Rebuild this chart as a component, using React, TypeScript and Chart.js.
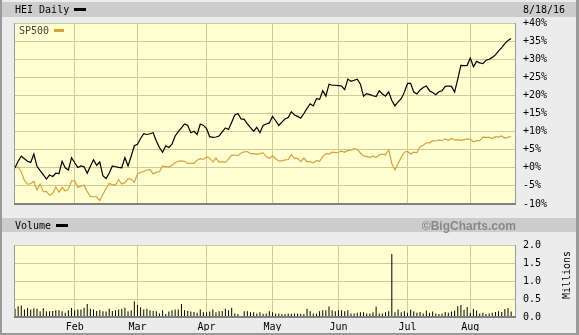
import { useEffect, useRef } from 'react';
import { Chart, registerables } from 'chart.js';

Chart.register(...registerables);

// Trading-day index 0 = Jan 4 2016 ... 158 = Aug 18 2016
const HEI = [
  0, 1.8, 3.2, 2.5, 1.8, 1.5, 3.8, 0.4, -0.8, -1.9, -3.1, -2.0, -2.4, -1.5, -1.6, 1.8, 0, -0.6, 2.8,
  1.4, 0.1, 0.5, 0.3, -1.5, 0.4, 2.2, 0.7, 1.6, -2.2, -3.0, -1.5, 0.5, 0.3, 0.1, 0.0, 2.8, 0.5, 3.2, 6.1,
  6.5, 8.1, 9.4, 9.2, 9.4, 9.7, 7.4, 5.6, 4.3, 6.1, 5.6, 6.5, 8.8, 10.0, 11.0, 12.1, 11.7, 9.7, 10.1, 9.2, 12.1, 11.7,
  10.8, 8.6, 8.4, 8.5, 8.8, 9.9, 11.0, 10.6, 12.6, 14.6, 15.0, 13.5, 13.4, 12.1, 11.1, 10.1, 11.2, 9.7, 11.7, 12.1, 12.4,
  14.2, 13.0, 11.7, 12.6, 13.5, 13.9, 15.5, 14.6, 14.2, 13.7, 15.0, 16.4, 17.7, 17.1, 19.1, 18.9, 21.3, 19.8, 23.1, 22.8, 22.8,
  22.7, 22.6, 21.6, 24.5, 23.9, 24.2, 24.5, 23.1, 19.8, 20.5, 20.2, 19.9, 19.7, 21.3, 20.4, 19.8, 21.0, 18.6, 17.1, 18.2, 19.1, 20.9,
  23.3, 23.3, 20.9, 20.4, 21.5, 22.2, 22.6, 21.3, 20.8, 20.2, 21.0, 21.3, 22.5, 22.6, 22.5, 20.9, 24.5, 28.3, 28.2, 28.3,
  30.3, 27.9, 29.4, 29.0, 28.8, 29.7, 30.0, 30.5, 31.2, 32.3, 33.2, 34.3, 35.2, 35.7,
];

const SP500 = [
  0, 0.2, -1.1, -3.5, -4.5, -4.4, -3.7, -6.1, -4.5, -6.6, -6.5, -7.6, -7.1, -5.3, -6.7, -5.4, -6.4, -5.9, -3.6,
  -3.6, -5.4, -5.0, -4.8, -6.6, -7.9, -8.0, -8.0, -9.1, -7.3, -5.8, -4.3, -4.7, -4.7, -3.3, -4.5, -4.1, -3.0, -3.2, -4.0,
  -1.7, -1.3, -1.0, -0.6, -0.5, -1.7, -1.2, -1.1, 0.5, 0.3, 0.2, 0.7, 1.4, 1.8, 1.9, 1.8, 1.2, 1.2, 1.2, 2.1, 2.5, 2.3,
  3.0, 2.7, 1.6, 2.7, 1.5, 1.7, 1.5, 2.4, 3.5, 3.5, 3.4, 4.1, 4.4, 4.5, 3.9, 3.9, 3.7, 3.9, 4.1, 3.1, 2.6,
  3.4, 2.5, 1.9, 1.9, 2.2, 2.3, 3.6, 2.6, 2.6, 1.7, 2.7, 1.7, 1.7, 1.4, 2.0, 1.8, 3.1, 3.9, 3.8, 4.3, 4.2,
  4.3, 4.6, 4.3, 4.8, 4.9, 5.3, 5.1, 4.1, 3.3, 3.1, 2.9, 3.2, 2.9, 3.5, 3.8, 3.6, 5.0, 1.2, -0.6, 1.2, 2.9, 4.3,
  4.5, 3.8, 4.3, 4.2, 5.8, 6.2, 6.9, 6.9, 7.5, 7.4, 7.7, 7.5, 8.0, 7.6, 8.1, 7.7, 7.8, 7.6, 7.8, 8.0,
  7.9, 7.2, 7.5, 7.5, 8.5, 8.4, 8.4, 8.1, 8.6, 8.5, 8.8, 8.2, 8.4, 8.7,
];

// Millions of shares
const VOLUME = [
  0.23, 0.3, 0.32, 0.21, 0.25, 0.21, 0.24, 0.23, 0.16, 0.24, 0.16, 0.16, 0.17, 0.19, 0.19, 0.16, 0.12, 0.19, 0.25,
  0.19, 0.21, 0.21, 0.26, 0.36, 0.23, 0.21, 0.17, 0.19, 0.16, 0.15, 0.23, 0.17, 0.19, 0.21, 0.23, 0.26, 0.16, 0.19, 0.44,
  0.33, 0.27, 0.21, 0.23, 0.19, 0.17, 0.16, 0.1, 0.19, 0.08, 0.15, 0.19, 0.21, 0.21, 0.36, 0.19, 0.17, 0.15, 0.14, 0.12,
  0.21, 0.13, 0.13, 0.15, 0.21, 0.13, 0.16, 0.17, 0.23, 0.19, 0.26, 0.1, 0.08, 0.03, 0.16, 0.16, 0.13, 0.13, 0.1, 0.13,
  0.09, 0.1, 0.16, 0.13, 0.1, 0.1, 0.08, 0.08, 0.1, 0.09, 0.1, 0.1, 0.09, 0.08, 0.23, 0.16, 0.1, 0.1, 0.16, 0.19,
  0.19, 0.29, 0.19, 0.16, 0.19, 0.19, 0.16, 0.19, 0.1, 0.1, 0.12, 0.13, 0.13, 0.1, 0.1, 0.13, 0.29, 0.1, 0.1, 0.13,
  0.16, 1.75, 0.13, 0.21,
  0.13, 0.16, 0.12, 0.2, 0.15, 0.12, 0.14, 0.1, 0.18, 0.12, 0.15, 0.1, 0.08, 0.1, 0.14, 0.12, 0.15, 0.18,
  0.3, 0.33, 0.2, 0.28, 0.12, 0.22, 0.18, 0.1, 0.12, 0.08, 0.1, 0.12, 0.14, 0.16, 0.14, 0.22, 0.25, 0.15,
];

const MONTH_TICKS = [19, 39, 61, 82, 103, 125, 145];
const MONTH_LABELS = ['Feb', 'Mar', 'Apr', 'May', 'Jun', 'Jul', 'Aug'];
const PCT_TICKS = [-10, -5, 0, 5, 10, 15, 20, 25, 30, 35, 40];
const VOL_TICKS = [0, 0.5, 1, 1.5, 2];

const MONO = '"DejaVu Sans Mono", "Liberation Mono", monospace';
const GRID = '#cccc99';
const PLOT_BG = '#ffffd2';
const ORANGE = '#d6a23e';
const X_MIN = -0.32;
const X_MAX = 159.55;

const framePlugin = {
  id: 'frame',
  beforeDraw(chart: any) {
    const { ctx, chartArea: a } = chart;
    ctx.save();
    ctx.fillStyle = PLOT_BG;
    ctx.fillRect(a.left, a.top, a.right - a.left, a.bottom - a.top);
    ctx.restore();
  },
  afterDraw(chart: any) {
    const { ctx, chartArea: a } = chart;
    ctx.save();
    ctx.strokeStyle = '#9a9a9a';
    ctx.lineWidth = 1;
    ctx.beginPath();
    ctx.moveTo(a.left + 0.5, a.top);
    ctx.lineTo(a.left + 0.5, a.bottom);
    ctx.moveTo(a.right - 0.5, a.top);
    ctx.lineTo(a.right - 0.5, a.bottom);
    ctx.stroke();
    ctx.strokeStyle = '#808080';
    ctx.lineWidth = 2;
    ctx.beginPath();
    ctx.moveTo(a.left, a.bottom);
    ctx.lineTo(a.right, a.bottom);
    ctx.stroke();
    ctx.restore();
  },
};

const monthTicks = (s: any) => {
  s.ticks = MONTH_TICKS.map((v) => ({ value: v }));
};

export default function App() {
  const mainRef = useRef<HTMLCanvasElement>(null);
  const volRef = useRef<HTMLCanvasElement>(null);

  useEffect(() => {
    const font = { family: MONO, size: 10 };
    const main = new Chart(mainRef.current!, {
      type: 'line',
      data: {
        datasets: [
          {
            label: 'HEI',
            data: HEI.map((y, x) => ({ x, y })),
            borderColor: '#000000',
            borderWidth: 1.2,
            pointRadius: 0,
            tension: 0,
          },
          {
            label: 'SP500',
            data: SP500.map((y, x) => ({ x, y })),
            borderColor: ORANGE,
            borderWidth: 1.2,
            pointRadius: 0,
            tension: 0,
          },
        ],
      },
      options: {
        responsive: false,
        animation: false,
        events: [],
        layout: { padding: { left: 14, top: 23, right: 0, bottom: 8 } },
        plugins: { legend: { display: false }, tooltip: { enabled: false } },
        scales: {
          x: {
            type: 'linear',
            min: X_MIN,
            max: X_MAX,
            afterBuildTicks: monthTicks,
            ticks: { display: false },
            grid: { color: GRID, drawTicks: false },
            border: { display: false },
            afterFit: (s: any) => {
              s.height = 0;
            },
          },
          y: {
            position: 'right',
            min: -10,
            max: 40,
            afterBuildTicks: (s: any) => {
              s.ticks = PCT_TICKS.map((v) => ({ value: v }));
            },
            ticks: {
              padding: 7,
              color: '#000',
              font,
              callback: (v: any) => (v >= 0 ? '+' : '') + v + '%',
            },
            grid: { color: GRID, drawTicks: false },
            border: { display: false },
            afterFit: (s: any) => {
              s.width = 63;
            },
          },
        },
      } as any,
      plugins: [framePlugin],
    });

    const vol = new Chart(volRef.current!, {
      type: 'bar',
      data: {
        datasets: [
          {
            label: 'Volume',
            data: VOLUME.map((y, x) => ({ x, y })),
            backgroundColor: '#000000',
            borderWidth: 0,
            barThickness: 1,
            inflateAmount: 0,
          },
        ],
      },
      options: {
        responsive: false,
        animation: false,
        events: [],
        layout: { padding: { left: 14, top: 7, right: 0, bottom: 4 } },
        plugins: { legend: { display: false }, tooltip: { enabled: false } },
        scales: {
          x: {
            type: 'linear',
            min: X_MIN,
            max: X_MAX,
            offset: false,
            afterBuildTicks: monthTicks,
            ticks: {
              color: '#000',
              font,
              padding: 4,
              autoSkip: false,
              maxRotation: 0,
              callback: (v: any) => {
                const i = MONTH_TICKS.indexOf(v);
                return i >= 0 ? MONTH_LABELS[i] : '';
              },
            },
            grid: { color: GRID, drawTicks: false, offset: false },
            border: { display: false },
            afterFit: (s: any) => {
              s.height = 14;
            },
          },
          y: {
            position: 'right',
            min: 0,
            max: 2,
            afterBuildTicks: (s: any) => {
              s.ticks = VOL_TICKS.map((v) => ({ value: v }));
            },
            ticks: {
              padding: 7,
              color: '#000',
              font,
              callback: (v: any) => Number(v).toFixed(1),
            },
            grid: { color: GRID, drawTicks: false },
            border: { display: false },
            afterFit: (s: any) => {
              s.width = 63;
            },
          },
        },
      } as any,
      plugins: [framePlugin],
    });

    return () => {
      main.destroy();
      vol.destroy();
    };
  }, []);

  const text: React.CSSProperties = {
    position: 'absolute',
    fontFamily: MONO,
    fontSize: 10,
    lineHeight: '10px',
    whiteSpace: 'nowrap',
    color: '#000',
  };

  return (
    <div
      style={{
        position: 'fixed',
        left: 0,
        top: 0,
        width: 579,
        height: 335,
        overflow: 'hidden',
        background: '#ececec',
      }}
    >
      <div style={{ position: 'absolute', left: 2, top: 2, width: 574, height: 15, background: '#cccccc' }} />
      <div style={{ position: 'absolute', left: 2, top: 218, width: 574, height: 14, background: '#cccccc' }} />
      <canvas ref={mainRef} width={579} height={217} style={{ position: 'absolute', left: 0, top: 0 }} />
      <canvas ref={volRef} width={579} height={103} style={{ position: 'absolute', left: 0, top: 232 }} />

      <div style={{ ...text, left: 15, top: 4.5 }}>HEI Daily</div>
      <div style={{ position: 'absolute', left: 74, top: 8, width: 12, height: 3, background: '#000' }} />
      <div style={{ ...text, left: 523, top: 5 }}>8/18/16</div>

      <div style={{ ...text, left: 19, top: 25.5, color: '#444' }}>SP500</div>
      <div style={{ position: 'absolute', left: 54, top: 29, width: 10, height: 3, background: ORANGE }} />

      <div style={{ ...text, left: 15, top: 221 }}>Volume</div>
      <div style={{ position: 'absolute', left: 56, top: 224, width: 12, height: 3, background: '#000' }} />
      <div
        style={{
          position: 'absolute',
          right: 63,
          top: 219.5,
          fontFamily: '"Liberation Sans", Arial, sans-serif',
          fontWeight: 'bold',
          fontSize: 12,
          lineHeight: '12px',
          color: '#888888',
          whiteSpace: 'nowrap',
        }}
      >
        ©BigCharts.com
      </div>
      <div
        style={{
          ...text,
          left: 567,
          top: 275,
          transform: 'translate(-50%, -50%) rotate(-90deg)',
        }}
      >
        Millions
      </div>

      <div style={{ position: 'absolute', left: 0, top: 0, width: 2, height: 335, background: '#9a9a9a' }} />
      <div style={{ position: 'absolute', left: 576, top: 0, width: 3, height: 335, background: '#9a9a9a' }} />
      <div style={{ position: 'absolute', left: 0, top: 333, width: 579, height: 2, background: '#9a9a9a' }} />
    </div>
  );
}
